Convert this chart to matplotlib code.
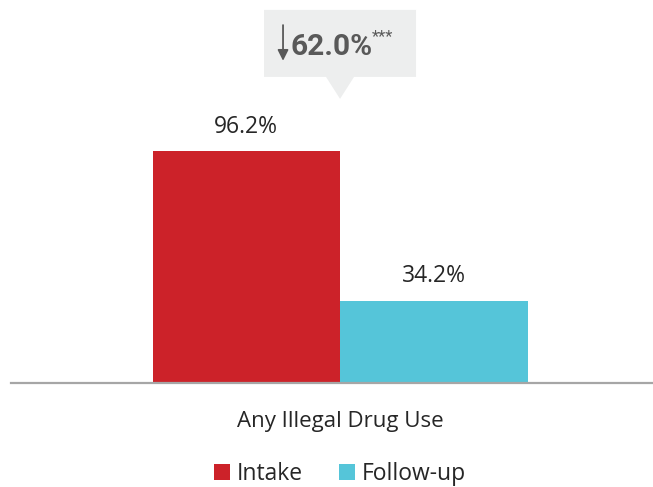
import numpy as np
import matplotlib
matplotlib.use('Agg')
import matplotlib.pyplot as plt
from matplotlib.patches import Polygon
from matplotlib.transforms import blended_transform_factory

# data
groups = ['Intake', 'Follow-up']
values = [96.2, 34.2]
category = 'Any Illegal Drug Use'
change_label = '62.0%'
signif = '***'

bar_colors = ['#CC2229', '#55C5D9']
text_gray = '#595959'

plt.rcParams['font.family'] = ['Open Sans', 'DejaVu Sans']

fig = plt.figure(figsize=(6.53, 4.87), dpi=100)
ax = fig.add_axes([11/653, 104/487, 642/653, 383/487])
ax.set_facecolor('none')

x = np.arange(len(values))
bars = ax.bar(x, values, width=1.0, color=bar_colors, label=groups)

for xi, v in zip(x, values):
    ax.text(xi, v + 7.5, '%.1f%%' % v, ha='center', va='baseline',
            fontsize=16.5, color='#262626')

ax.set_xlim(-1.2547, 2.169)
ax.set_ylim(0, 158.8)

for s in ['top', 'right', 'left']:
    ax.spines[s].set_visible(False)
ax.spines['bottom'].set_color('#a6a6a6')
ax.spines['bottom'].set_linewidth(1.6)
ax.set_yticks([])
ax.set_xticks([])

# category label under the pair
mid = (x[0] + x[1]) / 2
ax.text(mid, -18.2, category, ha='center', va='baseline', fontsize=16,
        color='#262626', clip_on=False)

# callout box with the change between intake and follow-up
bx0, bx1 = mid - 0.4053, mid + 0.4053
by0, by1 = 126.9, 154.7
tip = 117.8
hw = 0.0747
box = Polygon([(bx0, by0), (mid - hw, by0), (mid, tip), (mid + hw, by0),
               (bx1, by0), (bx1, by1), (bx0, by1)],
              closed=True, facecolor='#EDEEEE', edgecolor='none', zorder=1)
ax.add_patch(box)
ax.text(mid - 0.043, 136.0, change_label, ha='center', va='baseline',
        fontsize=21.5, fontweight='bold', color=text_gray, family='Roboto')
ax.annotate('', xy=(mid - 0.304, 133.6), xytext=(mid - 0.304, 148.4),
            arrowprops=dict(arrowstyle='-|>', lw=1.3, color=text_gray,
                            mutation_scale=16, shrinkA=0, shrinkB=0))
ax.text(mid + 0.172, 143.5, signif, ha='left', va='center',
        fontsize=12, color=text_gray, family='Roboto')

# legend centred under the pair
trans = blended_transform_factory(ax.transData, fig.transFigure)
fig.legend(handles=list(bars), labels=groups, loc='lower center',
           bbox_to_anchor=(mid, -0.04), bbox_transform=trans, ncol=2,
           frameon=False, fontsize=16.5, handlelength=0.68, handleheight=0.68,
           handletextpad=0.3, columnspacing=1.6, labelcolor='#262626')

fig.savefig('out.png', dpi=100)
